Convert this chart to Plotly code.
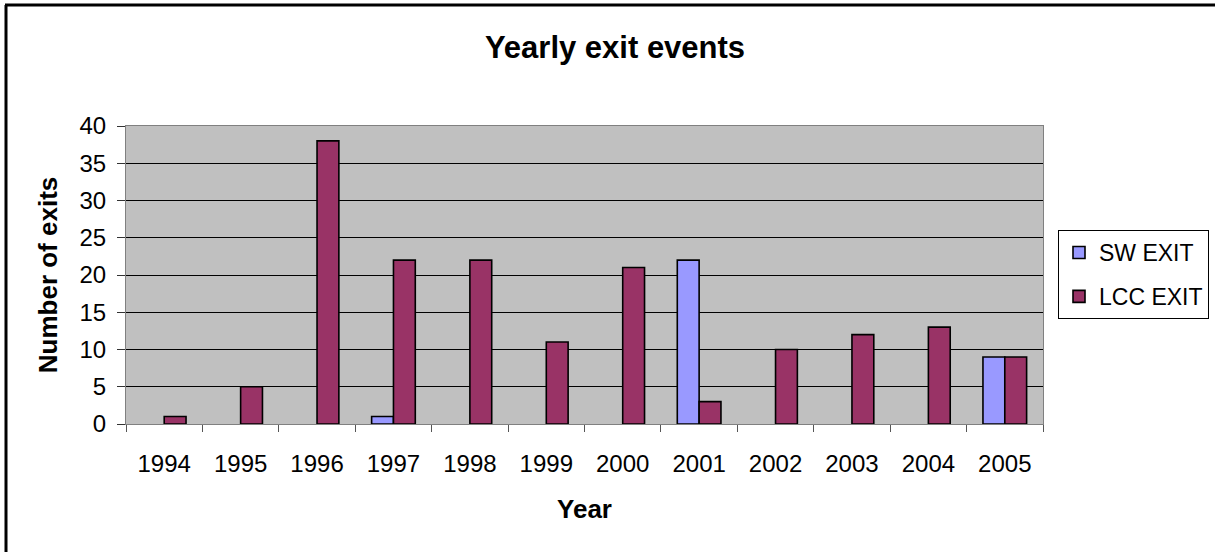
import plotly.graph_objects as go

years = ["1994", "1995", "1996", "1997", "1998", "1999",
         "2000", "2001", "2002", "2003", "2004", "2005"]
sw_exit = [0, 0, 0, 1, 0, 0, 0, 22, 0, 0, 0, 9]
lcc_exit = [1, 5, 38, 22, 22, 11, 21, 3, 10, 12, 13, 9]

W, H = 1215, 552
ML, MR, MT, MB = 126, 172, 126, 128
PW, PH = W - ML - MR, H - MT - MB

FONT = "Liberation Sans, Arial, sans-serif"


def drawn(values):
    # zero-height bars are left out instead of showing a flat outline
    return [v if v else None for v in values]


fig = go.Figure()
fig.add_trace(go.Bar(
    x=years, y=drawn(sw_exit), name="SW EXIT", legendgroup="sw",
    marker=dict(color="#9999FF", line=dict(color="#000000", width=1.6)),
))
fig.add_trace(go.Bar(
    x=years, y=drawn(lcc_exit), name="LCC EXIT", legendgroup="lcc",
    marker=dict(color="#993366", line=dict(color="#000000", width=1.6)),
))


def px_to_paper_x(px):
    return (px - ML) / PW


def px_to_paper_y(py):
    return 1 - (py - MT) / PH


# outer chart frame (left and top edges)
fig.add_shape(type="line", xref="paper", yref="paper",
              x0=px_to_paper_x(6), x1=px_to_paper_x(6),
              y0=px_to_paper_y(5), y1=px_to_paper_y(560),
              line=dict(color="#000000", width=3))
fig.add_shape(type="line", xref="paper", yref="paper",
              x0=px_to_paper_x(5), x1=px_to_paper_x(1230),
              y0=px_to_paper_y(5), y1=px_to_paper_y(5),
              line=dict(color="#000000", width=3))

fig.update_layout(
    width=W, height=H,
    margin=dict(l=ML, r=MR, t=MT, b=MB, autoexpand=False),
    paper_bgcolor="#FFFFFF",
    plot_bgcolor="#C0C0C0",
    barmode="group",
    bargap=0.4286,
    bargroupgap=0,
    font=dict(family=FONT, color="#000000", size=24),
    title=dict(text="<b>Yearly exit events</b>", x=615 / W, xanchor="center",
               y=1 - 47 / H, yanchor="middle",
               font=dict(family=FONT, size=31)),
    showlegend=True,
    legend=dict(x=px_to_paper_x(1058), y=px_to_paper_y(274.5),
                xanchor="left", yanchor="middle",
                bordercolor="#000000", borderwidth=1,
                bgcolor="#FFFFFF",
                font=dict(family=FONT, size=23),
                itemwidth=30,
                traceorder="grouped",
                tracegroupgap=11),
    xaxis=dict(
        type="category",
        tickson="boundaries",
        ticks="outside", ticklen=7, tickcolor="#555555",
        showline=True, linecolor="#808080", linewidth=1,
        mirror=True,
        showgrid=False,
        ticklabelstandoff=18,
        tickfont=dict(family=FONT, size=24),
        title=dict(text="<b>Year</b>", font=dict(family=FONT, size=26),
                   standoff=24),
    ),
    yaxis=dict(
        range=[0, 40], dtick=5, tick0=0,
        ticks="outside", ticklen=8, tickcolor="#333333",
        showline=True, linecolor="#808080", linewidth=1,
        mirror=True,
        showgrid=True, gridcolor="#000000", gridwidth=1,
        zeroline=False,
        ticklabelstandoff=6,
        tickfont=dict(family=FONT, size=24),
        title=dict(text="<b>Number of exits</b>", font=dict(family=FONT, size=26),
                   standoff=14),
    ),
)

fig.write_html("out.html")
